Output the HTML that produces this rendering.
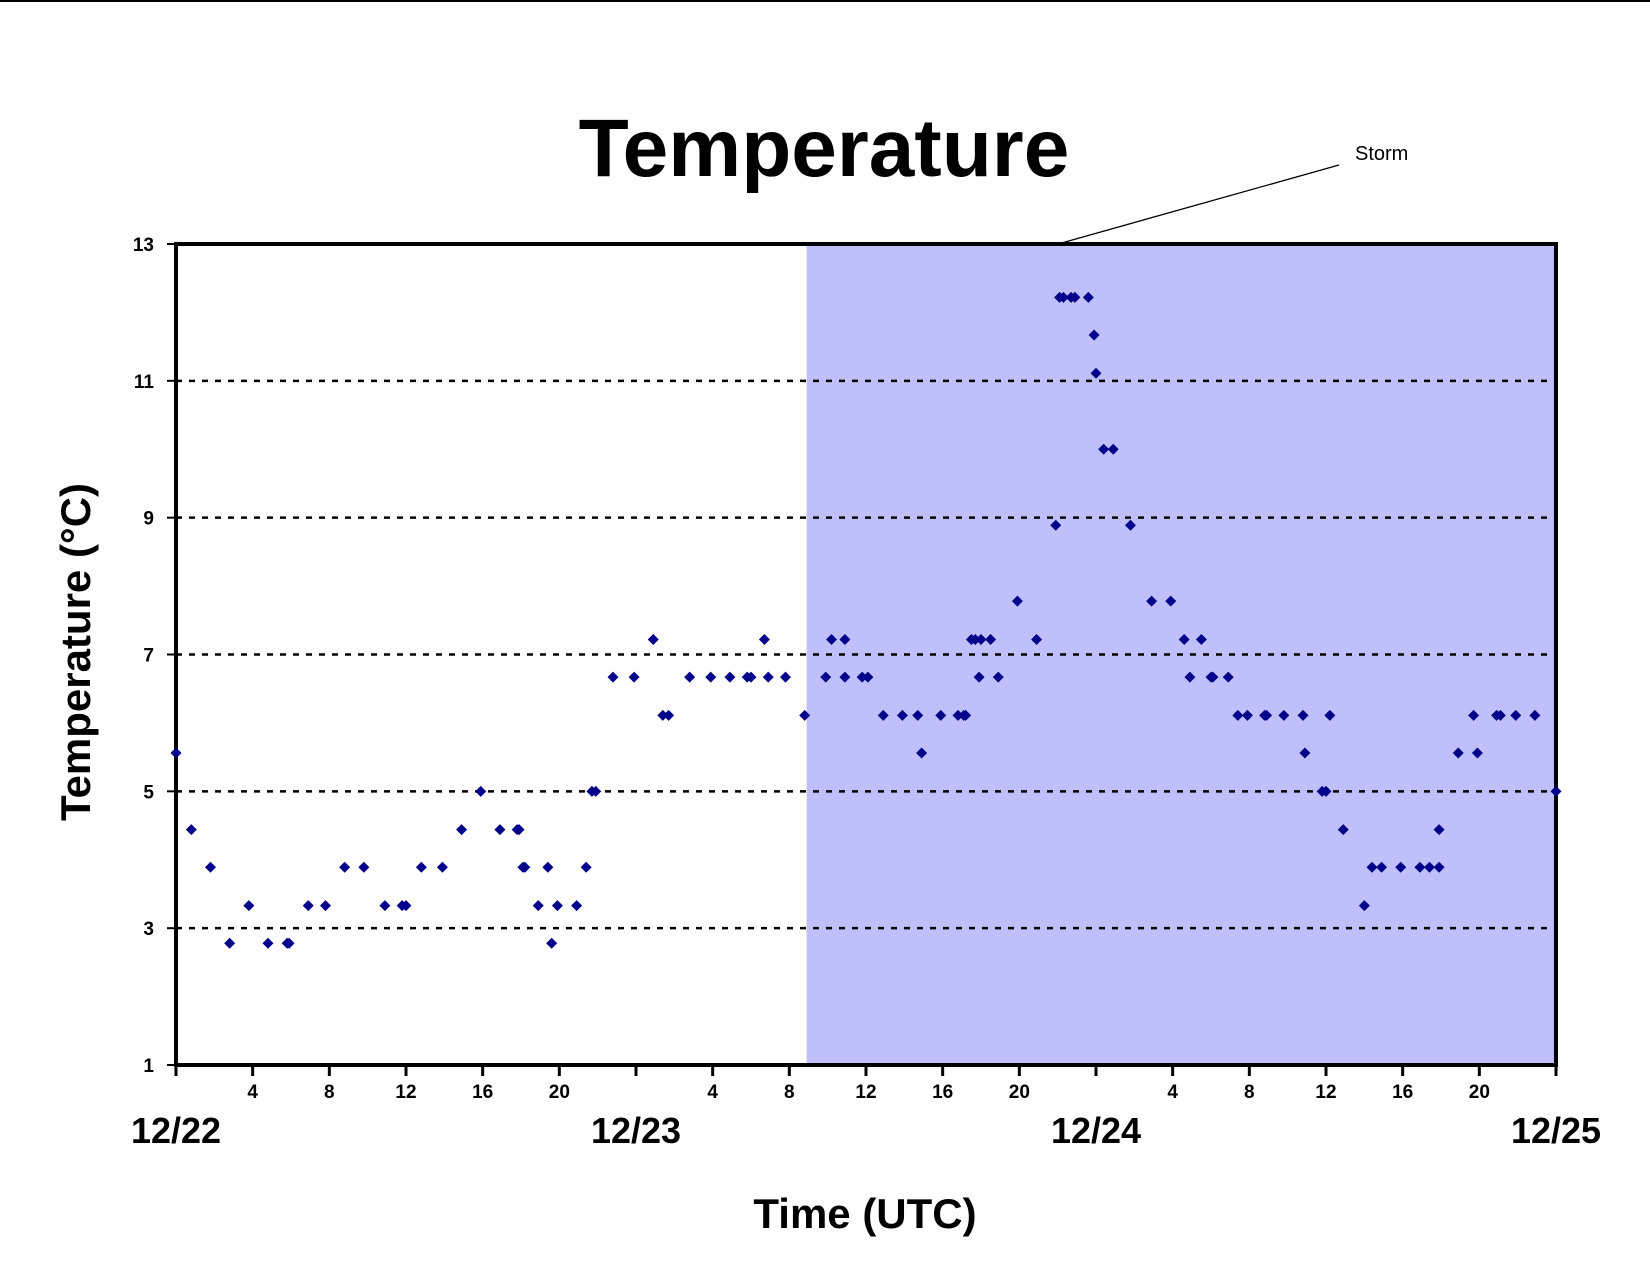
<!DOCTYPE html>
<html><head><meta charset="utf-8"><style>
body{margin:0;background:#fff;}
svg{display:block;font-family:"Liberation Sans",Arial,sans-serif;}
</style></head><body>
<svg width="1650" height="1275" viewBox="0 0 1650 1275">
<line x1="0" y1="1" x2="1650" y2="1" stroke="#000" stroke-width="2"/>
<text x="824" y="176" text-anchor="middle" font-size="82" font-weight="bold">Temperature</text>
<rect id="shade" fill="#bfbffb"/>
<g id="grid"></g>
<g id="axes"></g>
<g id="pts"></g>
<line x1="1339" y1="165" x2="1058" y2="244" stroke="#000" stroke-width="1.3"/>
<text x="1355" y="160" font-size="20">Storm</text>
<text x="865" y="1228" text-anchor="middle" font-size="42" font-weight="bold">Time (UTC)</text>
<text transform="translate(90,652) rotate(-90)" text-anchor="middle" font-size="42" font-weight="bold">Temperature (°C)</text>
</svg>
<script>
const yTicks=[1,3,5,7,9,11,13];
const gridVals=[3,5,7,9,11];
const hourTicks=[0,4,8,12,16,20,24,28,32,36,40,44,48,52,56,60,64,68,72];
const hourLabels=["","4","8","12","16","20","","4","8","12","16","20","","4","8","12","16","20",""];
const dayPos=[0,24,48,72];
const dayLabels=["12/22","12/23","12/24","12/25"];
const stormStart=32.9, stormEnd=72;
const hours=[0,0.8,1.8,2.8,3.8,4.8,5.8,5.9,6.9,7.8,8.8,9.8,10.9,11.8,12.0,12.8,13.9,14.9,15.9,16.9,17.8,17.9,18.1,18.2,18.9,19.4,19.6,19.9,20.9,21.4,21.7,21.9,22.8,23.9,24.9,25.4,25.7,26.8,27.9,28.9,29.8,30.0,30.7,30.9,31.8,32.8,33.9,34.2,34.9,34.9,35.8,36.1,36.9,37.9,38.7,38.9,39.9,40.8,41.1,41.2,41.5,41.7,42.0,41.9,42.5,42.9,43.9,44.9,45.9,46.1,46.3,46.7,46.9,47.6,47.9,48.0,48.4,48.9,49.8,50.9,51.9,52.6,52.9,53.5,54.0,54.1,54.9,55.4,55.9,56.8,56.9,57.8,58.8,58.9,59.8,60.0,60.2,60.9,62.0,62.4,62.9,63.9,64.9,65.4,65.9,65.9,66.9,67.7,67.9,68.9,69.1,69.9,70.9,72];
const temps=[5.56,4.44,3.89,2.78,3.33,2.78,2.78,2.78,3.33,3.33,3.89,3.89,3.33,3.33,3.33,3.89,3.89,4.44,5.0,4.44,4.44,4.44,3.89,3.89,3.33,3.89,2.78,3.33,3.33,3.89,5.0,5.0,6.67,6.67,7.22,6.11,6.11,6.67,6.67,6.67,6.67,6.67,7.22,6.67,6.67,6.11,6.67,7.22,7.22,6.67,6.67,6.67,6.11,6.11,6.11,5.56,6.11,6.11,6.11,6.11,7.22,7.22,7.22,6.67,7.22,6.67,7.78,7.22,8.89,12.22,12.22,12.22,12.22,12.22,11.67,11.11,10.0,10.0,8.89,7.78,7.78,7.22,6.67,7.22,6.67,6.67,6.67,6.11,6.11,6.11,6.11,6.11,6.11,5.56,5.0,5.0,6.11,4.44,3.33,3.89,3.89,3.89,3.89,3.89,3.89,4.44,5.56,6.11,5.56,6.11,6.11,6.11,6.11,5.0];
const L=176,R=1556,T=244,B=1065;
const x=h=>L+(R-L)*h/72;
const y=v=>B-(B-T)*(v-1)/12;
const NS="http://www.w3.org/2000/svg";
function mk(tag,attrs,parent){const e=document.createElementNS(NS,tag);for(const k in attrs)e.setAttribute(k,attrs[k]);parent.appendChild(e);return e;}
const shade=document.getElementById('shade');
shade.setAttribute('x',x(stormStart));shade.setAttribute('y',T);
shade.setAttribute('width',x(stormEnd)-x(stormStart));shade.setAttribute('height',B-T);
const grid=document.getElementById('grid');
gridVals.forEach(v=>{const l=mk('line',{x1:L,x2:R,y1:y(v),y2:y(v),stroke:'#000','stroke-width':2.5,'stroke-dasharray':'6 7'},grid);

});
const ax=document.getElementById('axes');
yTicks.forEach(v=>{const t=mk('line',{x1:L-9,x2:L,y1:y(v),y2:y(v),stroke:'#000','stroke-width':2},ax);


const tx=mk('text',{x:L-22,y:y(v)+7,'text-anchor':'end','font-size':19,'font-weight':'bold'},ax);tx.textContent=v;

});
hourTicks.forEach((h,i)=>{const t=mk('line',{x1:x(h),x2:x(h),y1:B,y2:B+11,stroke:'#000','stroke-width':3},ax);


if(hourLabels[i]){const tx=mk('text',{x:x(h),y:B+33,'text-anchor':'middle','font-size':19,'font-weight':'bold'},ax);tx.textContent=hourLabels[i];

}});
dayPos.forEach((h,i)=>{const tx=mk('text',{x:x(h),y:1143,'text-anchor':'middle','font-size':36,'font-weight':'bold'},ax);tx.textContent=dayLabels[i];

});
const fr=mk('rect',{x:L,y:T,width:R-L,height:B-T,fill:'none',stroke:'#000','stroke-width':4},ax);


const pts=document.getElementById('pts');
hours.forEach((h,i)=>{const cx=x(h),cy=y(temps[i]),s=5.5;
const p=mk('polygon',{points:`${cx},${cy-s} ${cx+s},${cy} ${cx},${cy+s} ${cx-s},${cy}`,fill:'#00008b'},pts);

});
</script>
</body></html>
